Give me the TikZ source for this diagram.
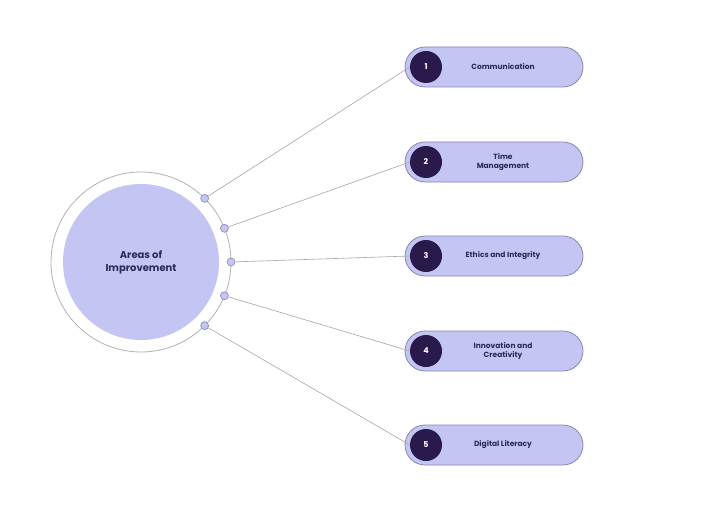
\documentclass[tikz,border=0pt]{standalone}
\usepackage{fontspec}
\setmainfont{Poppins}
\usetikzlibrary{calc}
\begin{document}
\begin{tikzpicture}[x=1pt,y=-1pt,
  pill/.style={draw=pbord,line width=0.8pt,fill=lav,rounded corners=20pt,minimum width=178pt,minimum height=40pt},
  num/.style={circle,fill=dark,text=white,minimum size=32pt,inner sep=0pt,font=\fontsize{8}{9}\selectfont\bfseries},
  lbl/.style={text=navy,font=\fontsize{7.5}{9}\selectfont\bfseries,align=center},
  dot/.style={circle,draw=pbord,fill=lav,line width=0.6pt,minimum size=8pt,inner sep=0pt},
  conn/.style={draw=gray!70,line width=0.6pt}]
\definecolor{lav}{HTML}{C3C5F2}
\definecolor{dark}{HTML}{2A1A4C}
\definecolor{navy}{HTML}{2B2A5A}
\definecolor{pbord}{HTML}{8A87B0}
\useasboundingbox[fill=white] (0,0) rectangle (720,524);
\node[circle,draw=gray!60,line width=0.8pt,minimum size=180pt,inner sep=0pt] (ring) at (141,262) {};
\node[circle,fill=lav,minimum size=156pt,inner sep=0pt,text=navy,font=\fontsize{10}{13}\selectfont\bfseries,align=center] (c) at (141,262) {Areas of\\Improvement};
\foreach \i/\y/\a/\t in {1/67/-45/Communication,2/162/-22/{Time\\Management},3/256/0/Ethics and Integrity,4/351/22/{Innovation and\\Creativity},5/445/45/Digital Literacy}{
  \node[pill] (p\i) at (494,\y) {};
  \node[num] (n\i) at (426,\y) {\i};
  \node[lbl] (t\i) at (503,\y) {\t};
  \node[dot] (d\i) at ($(141,262)+(\a:90)$) {};
  \draw[conn] (d\i) -- (n\i.west);
}
\end{tikzpicture}
\end{document}
